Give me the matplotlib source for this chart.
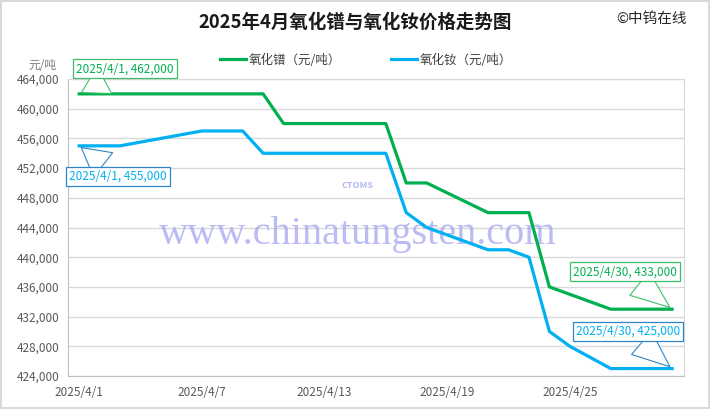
import pandas as pd
import matplotlib
matplotlib.use("Agg")
import matplotlib.pyplot as plt
from matplotlib.ticker import FuncFormatter

plt.rcParams['font.family'] = ['Noto Sans CJK SC', 'DejaVu Sans']

# trading days in April 2025 (4/27 was a make-up working day)
dates = ["2025-04-01", "2025-04-02", "2025-04-03", "2025-04-07", "2025-04-08",
         "2025-04-09", "2025-04-10", "2025-04-11", "2025-04-14", "2025-04-15",
         "2025-04-16", "2025-04-17", "2025-04-18", "2025-04-21", "2025-04-22",
         "2025-04-23", "2025-04-24", "2025-04-25", "2025-04-27", "2025-04-28",
         "2025-04-29", "2025-04-30"]
pr_oxide = [462000, 462000, 462000, 462000, 462000, 462000, 462000, 458000, 458000, 458000,
            458000, 450000, 450000, 446000, 446000, 446000, 436000, 435000, 433000, 433000,
            433000, 433000]
nd_oxide = [455000, 455000, 455000, 457000, 457000, 457000, 454000, 454000, 454000, 454000,
            454000, 446000, 444000, 441000, 441000, 440000, 430000, 428000, 425000, 425000,
            425000, 425000]
series_names = ["氧化镨（元/吨）", "氧化钕（元/吨）"]
tick_dates = ["2025-04-01", "2025-04-07", "2025-04-13", "2025-04-19", "2025-04-25"]
tick_labels = ["2025/4/1", "2025/4/7", "2025/4/13", "2025/4/19", "2025/4/25"]

GREEN = "#00b050"
BLUE = "#00b0f0"

x = pd.to_datetime(dates)

fig = plt.figure(figsize=(7.1, 4.09), dpi=100, edgecolor="#d9d9d9", linewidth=1.5)
ax = fig.add_axes([0.0958, 0.0807, 0.8676, 0.7261])

ax.plot(x, pr_oxide, color=GREEN, lw=2.3, label=series_names[0], zorder=3)
ax.plot(x, nd_oxide, color=BLUE, lw=2.3, label=series_names[1], zorder=3)

ax.set_ylim(424000, 464000)
ax.set_yticks(range(424000, 464001, 4000))
ax.yaxis.set_major_formatter(FuncFormatter(lambda v, p: f"{int(v):,}"))
ax.set_xlim(x[0] - pd.Timedelta(hours=13), x[-1] + pd.Timedelta(hours=14))
ax.set_xticks(pd.to_datetime(tick_dates))
ax.set_xticklabels(tick_labels)
ax.tick_params(axis="both", labelsize=8.5, labelcolor="#595959", length=0, pad=6)
ax.tick_params(axis="x", pad=7)
ax.grid(axis="y", color="#d9d9d9", lw=1, zorder=0)
ax.set_axisbelow(True)
for side in ["top", "right"]:
    ax.spines[side].set_color("#d9d9d9")
for side in ["left", "bottom"]:
    ax.spines[side].set_color("#bfbfbf")

ax.text(-0.042, 1.044, "元/吨", transform=ax.transAxes, ha="center", va="center",
        fontsize=8.5, color="#7f7f7f")

# watermark
ax.text(0.47, 0.475, "www.chinatungsten.com", transform=ax.transAxes, ha="center",
        va="center", family="Liberation Serif", fontsize=29, color="#a5a5f2",
        alpha=0.75, zorder=1)
ax.text(0.47, 0.64, "CTOMS", transform=ax.transAxes, ha="center", va="center",
        fontsize=6.5, style="italic", weight="bold", color="#9fa9ee", alpha=0.8, zorder=1)

# end-point callouts
def callout(xv, yv, color, edge, offset):
    ax.annotate(f"{xv.year}/{xv.month}/{xv.day}, {yv:,}", xy=(xv, yv), xytext=offset,
                textcoords="offset points", ha="center", va="center", fontsize=8.5,
                color=color, zorder=5,
                bbox=dict(boxstyle="square,pad=0.25", fc="white", ec=edge, lw=0.9),
                arrowprops=dict(arrowstyle="wedge,tail_width=2.6,shrink_factor=0.5",
                                fc="white", ec=edge, lw=0.8))

callout(x[0], pr_oxide[0], GREEN, "#3dbf6a", (33, 18))
callout(x[0], nd_oxide[0], BLUE, "#2e86c8", (28, -22))
callout(x[-1], pr_oxide[-1], GREEN, "#3dbf6a", (-34, 27))
callout(x[-1], nd_oxide[-1], BLUE, "#2e86c8", (-32, 27))

fig.text(0.5, 1 - 22 / 409, "2025年4月氧化镨与氧化钕价格走势图", ha="center", va="center",
         fontsize=13.3, weight="bold", color="#1a1a1a")
fig.text(0.917, 1 - 19 / 409, "©中钨在线", ha="center", va="center", fontsize=10.5,
         color="#262626")

fig.legend(loc="center", bbox_to_anchor=(0.515, 1 - 60 / 409), ncol=2, frameon=False,
           fontsize=9, handlelength=2.1, columnspacing=4.0, handletextpad=0.2,
           labelcolor="#404040")

fig.savefig("out.png", dpi=100, edgecolor=fig.get_edgecolor())
